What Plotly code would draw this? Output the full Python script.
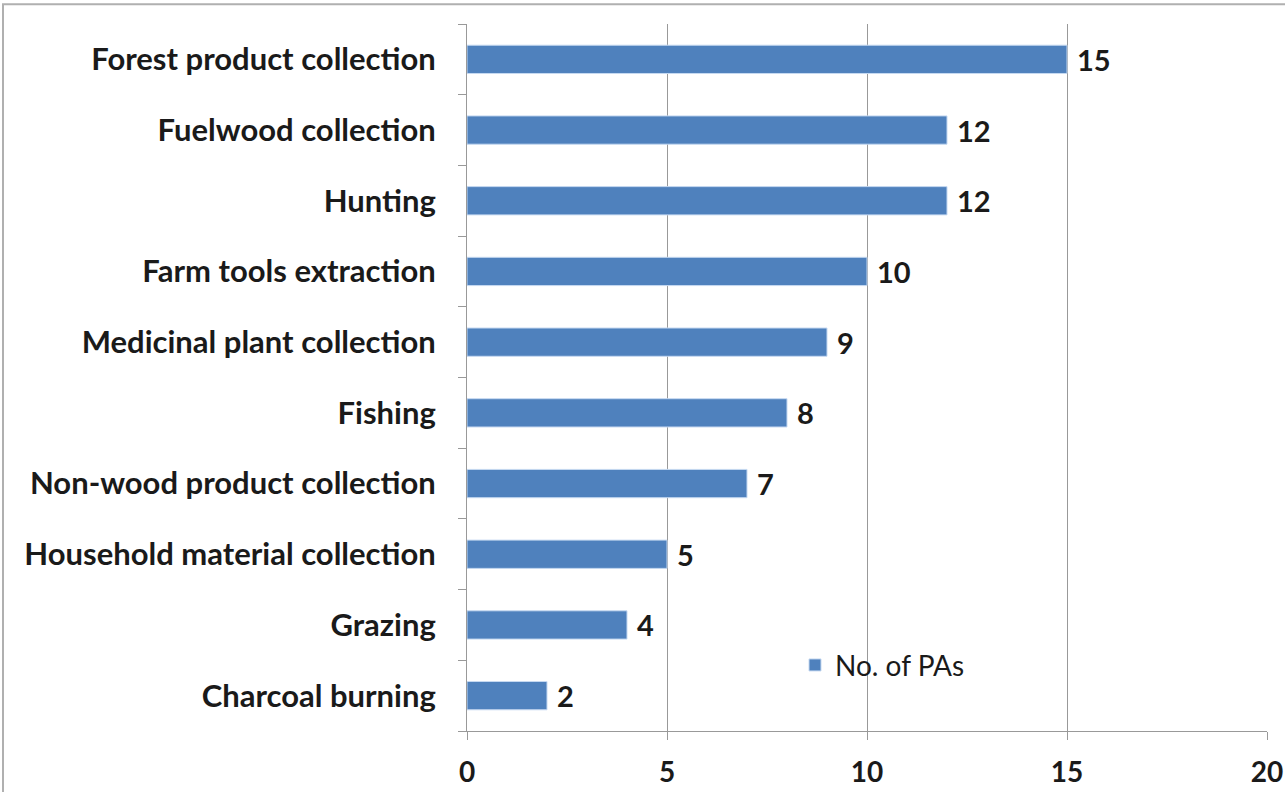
import plotly.graph_objects as go

categories = ["Forest product collection", "Fuelwood collection", "Hunting",
              "Farm tools extraction", "Medicinal plant collection", "Fishing",
              "Non-wood product collection", "Household material collection",
              "Grazing", "Charcoal burning"]
values = [15, 12, 12, 10, 9, 8, 7, 5, 4, 2]
series_name = "No. of PAs"
x_ticks = [0, 5, 10, 15, 20]

font_family = "Lato, Carlito, 'Open Sans', sans-serif"
txt_color = "#1a1a1a"

fig = go.Figure()
fig.add_trace(go.Bar(
    y=categories, x=values, orientation="h", name=series_name,
    marker=dict(color="#4F81BD", line=dict(color="#c6d9f1", width=1)),
    width=0.4,
    text=[str(v) for v in values], texttemplate="\u00a0%{text}", textposition="outside",
    constraintext="none",
    textfont=dict(family=font_family, size=29, color=txt_color, weight="bold"),
    cliponaxis=False,
))

fig.update_layout(
    width=1285, height=792,
    margin=dict(l=467, r=18, t=24, b=61, autoexpand=False),
    paper_bgcolor="white", plot_bgcolor="white",
    showlegend=True,
    legend=dict(x=0.41, y=0.093, xanchor="left", yanchor="middle",
                font=dict(family=font_family, size=28, color=txt_color),
                bgcolor="rgba(0,0,0,0)", itemwidth=30, tracegroupgap=0),
    font=dict(family=font_family, color=txt_color),
)
fig.update_xaxes(
    range=[0, 20], tickvals=x_ticks, showgrid=True, gridcolor="#999999", gridwidth=1,
    showline=True, linecolor="#999999", linewidth=1, zeroline=False,
    ticks="outside", ticklen=8, tickcolor="#999999", automargin=False,
    tickfont=dict(family=font_family, size=28, color=txt_color, weight="bold"),
    ticklabelstandoff=8,
)
fig.update_yaxes(
    categoryorder="array", categoryarray=categories[::-1],
    showline=True, linecolor="#999999", linewidth=1, showgrid=False,
    ticks="outside", ticklen=8, tickcolor="#999999", tickson="boundaries",
    automargin=False,
    tickfont=dict(family=font_family, size=31, color=txt_color, weight="bold"),
    ticklabelstandoff=24,
)
# outer frame of the chart
fig.add_shape(type="rect", xref="paper", yref="paper", x0=-0.58, x1=1.03, y0=-0.2, y1=1.028,
              line=dict(color="#b0b0b0", width=2), layer="below")

fig.write_html("out.html", config={"displayModeBar": False},
               post_script="document.body.style.margin='0';")
